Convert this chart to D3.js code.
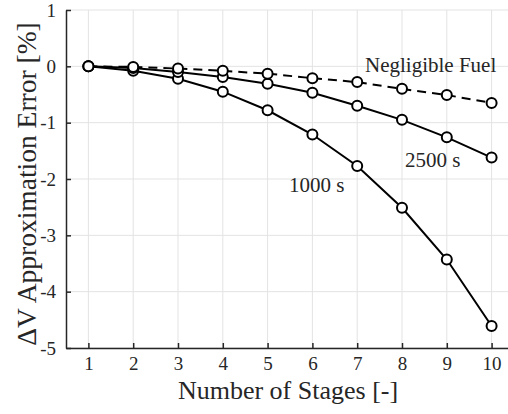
<!DOCTYPE html>
<html>
<head>
<meta charset="utf-8">
<script src="https://cdn.jsdelivr.net/npm/d3@7"></script>
<style>
  body { margin: 0; background: #fff; }
  text { font-family: "Liberation Serif", "DejaVu Serif", serif; fill: #262626; }
</style>
</head>
<body>
<script>
var stages = [1, 2, 3, 4, 5, 6, 7, 8, 9, 10];
var negligible = [0, -0.01, -0.04, -0.08, -0.13, -0.21, -0.28, -0.40, -0.51, -0.65];
var isp2500 = [0, -0.03, -0.10, -0.19, -0.31, -0.47, -0.70, -0.95, -1.26, -1.62];
var isp1000 = [0, -0.08, -0.22, -0.45, -0.78, -1.21, -1.77, -2.51, -3.43, -4.61];
var yTicks = [1, 0, -1, -2, -3, -4, -5];
var seriesLabels = ["Negligible Fuel", "2500 s", "1000 s"];

var w = 508, h = 414;
var pLeft = 66, pTop = 10, pBottom = 348, pRight = 514;

var svg = d3.select("body").append("svg")
  .attr("width", w)
  .attr("height", h);

var x = d3.scaleLinear().domain([0.5, 10.5]).range([pLeft, pRight]);
var y = d3.scaleLinear().domain([-5, 1]).range([pBottom, pTop]);

// grid
svg.append("g").selectAll("line").data(stages).enter().append("line")
  .attr("x1", function(d) { return x(d); })
  .attr("x2", function(d) { return x(d); })
  .attr("y1", pTop).attr("y2", pBottom)
  .attr("stroke", "#e3e3e3").attr("stroke-width", 1);
svg.append("g").selectAll("line").data(yTicks).enter().append("line")
  .attr("x1", pLeft).attr("x2", pRight)
  .attr("y1", function(d) { return y(d); })
  .attr("y2", function(d) { return y(d); })
  .attr("stroke", "#e3e3e3").attr("stroke-width", 1);

// axes
var xAxis = svg.append("g")
  .attr("transform", "translate(0," + pBottom + ")")
  .call(d3.axisBottom(x).tickValues(stages).tickSizeInner(-5).tickSizeOuter(0).tickPadding(9));
var yAxis = svg.append("g")
  .attr("transform", "translate(" + pLeft + ",0)")
  .call(d3.axisLeft(y).tickValues(yTicks).tickSizeInner(-5).tickSizeOuter(0).tickPadding(10)
    .tickFormat(function(d) { return String(d); }));

[xAxis, yAxis].forEach(function(a) {
  a.select(".domain").attr("stroke", "#262626").attr("stroke-width", 1.5);
  a.selectAll(".tick line").attr("stroke", "#262626").attr("stroke-width", 1.5);
  a.selectAll(".tick text")
    .attr("font-family", "Liberation Serif, serif")
    .attr("font-size", 19).attr("fill", "#262626");
});

// series
var line = d3.line()
  .x(function(d, i) { return x(stages[i]); })
  .y(function(d) { return y(d); });

var series = [
  { v: negligible, dash: "9,6" },
  { v: isp2500, dash: null },
  { v: isp1000, dash: null }
];

series.forEach(function(s) {
  svg.append("path")
    .attr("d", line(s.v))
    .attr("fill", "none")
    .attr("stroke", "#000")
    .attr("stroke-width", 2)
    .attr("stroke-dasharray", s.dash);
});
series.slice().reverse().forEach(function(s) {
  svg.append("g").selectAll("circle").data(s.v).enter().append("circle")
    .attr("cx", function(d, i) { return x(stages[i]); })
    .attr("cy", function(d) { return y(d); })
    .attr("r", 5)
    .attr("fill", "#fff")
    .attr("stroke", "#000")
    .attr("stroke-width", 2);
});

// annotations
svg.append("text").attr("x", 365).attr("y", 72).attr("font-size", 21).attr("fill", "#000").text(seriesLabels[0]);
svg.append("text").attr("x", 405).attr("y", 167).attr("font-size", 21).attr("fill", "#000").text(seriesLabels[1]);
svg.append("text").attr("x", 289).attr("y", 192).attr("font-size", 21).attr("fill", "#000").text(seriesLabels[2]);

// axis titles
svg.append("text")
  .attr("x", 288)
  .attr("y", 399)
  .attr("text-anchor", "middle")
  .attr("font-size", 26)
  .text("Number of Stages [-]");
svg.append("text")
  .attr("transform", "translate(36,184) rotate(-90)")
  .attr("text-anchor", "middle")
  .attr("font-size", 27.5)
  .text("\u0394V Approximation Error [%]");
</script>
</body>
</html>
